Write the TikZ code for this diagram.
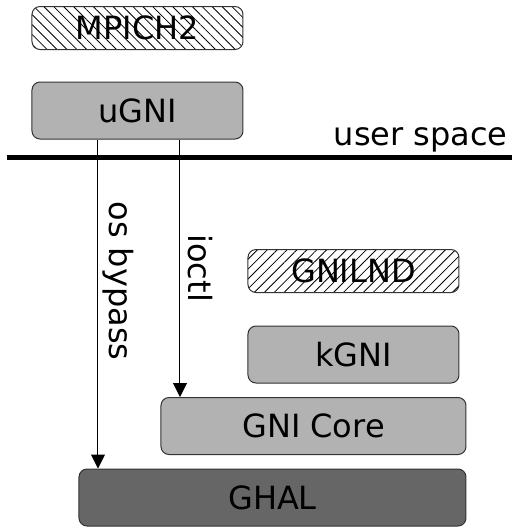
\documentclass[tikz,border=0pt]{standalone}
\usepackage{fontspec}
\setmainfont{DejaVu Sans}
\usetikzlibrary{arrows.meta,patterns.meta}
\tikzset{
  layer/.style={draw=black!80, line width=0.5pt, rounded corners=4pt,
    minimum width=105.5pt, minimum height=28.5pt, inner sep=0pt,
    font=\fontsize{16}{19}\selectfont},
  lightlayer/.style={layer, fill=black!30},
  darklayer/.style={layer, fill=black!60},
  hatched/.style={layer, minimum height=21.5pt,
    pattern={Lines[angle=#1, distance=3.5pt, line width=0.4pt]}},
  call/.style={-{Triangle[length=7pt,width=7pt]}, line width=0.5pt},
  lbl/.style={rotate=-90, anchor=south, inner sep=2pt,
    font=\fontsize{16}{19}\selectfont}
}
\begin{document}
\begin{tikzpicture}[x=0.5pt, y=-0.5pt]
\useasboundingbox (0,0) rectangle (518,527);
% user side
\node[hatched=-45] (mpich) at (137.5,28) {MPICH2};
\node[lightlayer] (ugni) at (137.5,110.5) {uGNI};
% kernel side
\node[hatched=45] (gnilnd) at (353.5,271) {GNILND};
\node[lightlayer] (kgni) at (353.5,354.5) {kGNI};
\node[lightlayer, minimum width=152.5pt] (core) at (313.5,426) {GNI Core};
\node[darklayer, minimum width=193.5pt] (ghal) at (272.5,497.5) {GHAL};
% boundary
\coordinate (sepl) at (7,157);
\coordinate (sepr) at (512,157);
\draw[line width=2.5pt] (sepl) -- (sepr);
\node[anchor=base east, inner sep=0pt, font=\fontsize{16}{19}\selectfont] (us) at (508,145) {user space};
% calls
\coordinate (bypass) at (98,0);
\coordinate (ioc) at (180,0);
\draw[call] (ugni.south -| bypass) -- node[lbl, pos=.43] {os bypass} (ghal.north -| bypass);
\draw[call] (ugni.south -| ioc) -- node[lbl, inner sep=4pt, midway] {ioctl} (core.north -| ioc);
\end{tikzpicture}
\end{document}
